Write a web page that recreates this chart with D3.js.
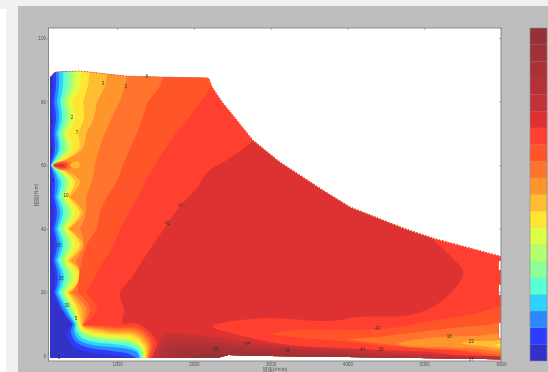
<!DOCTYPE html>
<html>
<head>
<meta charset="utf-8">
<script src="https://cdn.jsdelivr.net/npm/d3@7"></script>
<style>
html, body { margin: 0; padding: 0; background: #f1f1f1; overflow: hidden; }
text { font-family: "Liberation Sans", "Noto Sans CJK SC", sans-serif; }
svg { filter: blur(0.4px); }
</style>
</head>
<body>
<div id="chart"></div>
<script>
// contour band colours, lowest band first (same order as the colour bar)
const levelColors = ["#3232c8", "#2d3cff", "#2d87ff", "#2dd2ff", "#5affd2", "#8cff96", "#b4ff6e", "#dcff46",
    "#ffe632", "#ffbe32", "#ff962d", "#ff732d", "#ff5528", "#ff4030", "#de3232", "#c33237", "#b43237", "#aa3237", "#a03237", "#933237"];

const xTicks = [1000, 2000, 3000, 4000, 5000, 6000];
const yTicks = [0, 20, 40, 60, 80, 100];

// outer limit of the map [rpm, torque]
const envelopeTop = [[126, 87.7], [191, 89.3], [517, 89.6], [1129, 88], [1819, 87.6], [2196, 87.4]];
const envelopeFall = [[2196, 87.4], [2248, 84.3], [2378, 79.6], [2509, 75.8], [2769, 67.9], [3121, 61], [3680, 52.2], [4032, 46.9],
    [4722, 40.3], [5113, 37.1], [6000, 31.4]];
const envelopeRest = [[6000, 29.9], [5965, 29.9], [5965, 27], [6000, 27], [6000, 22.6], [5965, 22.6], [5965, 19.2], [6000, 19.2],
    [6000, 10.4], [5965, 10.4], [5965, 5.7], [6000, 5.7], [6000, -1], [4500, -0.5], [3000, 0], [2450, 0.3], [2300, -0.6], [126, -0.6]];

// left family: rpm where each level is crossed, one value per torque row
const torqueRows = [92, 85, 80, 75, 70, 65, 60, 55, 50, 45, 40, 35, 30, 25, 20, 15];
const pinchRows = [80, 70, 60, 50, 40, 30, 20];
const rpmL2 = [165, 165, 152, 165, 152, 165, 130, 152, 152, 178, 152, 178, 152, 191, 165, 256];
const rpmL3 = [204, 204, 178, 204, 178, 191, 134, 191, 178, 217, 178, 217, 178, 230, 191, 282];
const rpmL4 = [243, 243, 217, 243, 204, 230, 139, 230, 204, 256, 204, 256, 204, 269, 217, 321];
const rpmL5 = [295, 295, 256, 282, 230, 256, 142, 269, 230, 295, 230, 295, 230, 308, 243, 347];
const rpmL6 = [347, 347, 282, 321, 256, 295, 146, 308, 256, 334, 256, 334, 256, 347, 269, 373];
const rpmL7 = [399, 399, 321, 360, 282, 334, 152, 347, 282, 373, 282, 373, 282, 386, 295, 399];
const rpmL8 = [451, 438, 347, 399, 308, 373, 159, 373, 308, 412, 308, 412, 308, 425, 321, 425];
const rpmL9 = [529, 516, 412, 451, 360, 412, 165, 412, 334, 451, 334, 451, 334, 464, 334, 451];
const rpmL10 = [646, 620, 555, 568, 490, 503, 172, 451, 360, 516, 360, 516, 360, 529, 360, 490];
const rpmL11 = [880, 841, 737, 698, 594, 542, 178, 516, 386, 555, 373, 555, 386, 581, 373, 542];
const rpmL12 = [1166, 1101, 1036, 932, 841, 763, 711, 672, 594, 594, 516, 568, 464, 516, 412, 594];
const rpmL13 = [1660, 1556, 1400, 1335, 1257, 1166, 1075, 997, 867, 776, 737, 607, 542, 503, 490, 646];
const rpmL14 = [2401, 2232, 2089, 1933, 1764, 1621, 1491, 1374, 1270, 1153, 1036, 958, 828, 711, 594, 737];

// the same levels below the knee at torque 10, running out along the low torque edge
const tailL2 = [[412, 10], [347, 7.2], [412, 3.5], [620, 1.3], [932, 0.3], [1205, -0.6]];
const tailL3 = [[425, 10], [399, 7.5], [464, 4.4], [646, 2.5], [932, 1.6], [1127, 0.9], [1257, -0.6]];
const tailL4 = [[451, 10], [438, 7.9], [503, 5], [672, 3.5], [932, 2.8], [1140, 2.2], [1270, 0.9], [1283, -0.6]];
const tailL5 = [[464, 10], [464, 8.2], [542, 5.7], [698, 4.4], [932, 3.8], [1140, 3.1], [1270, 1.6], [1309, -0.6]];
const tailL6 = [[477, 10], [490, 8.2], [568, 6], [724, 5], [932, 4.4], [1166, 3.8], [1296, 1.9], [1322, -0.6]];
const tailL7 = [[490, 10], [503, 8.5], [594, 6.6], [750, 5.7], [932, 5], [1166, 4.4], [1309, 2.2], [1335, -0.6]];
const tailL8 = [[503, 10], [516, 8.5], [620, 6.9], [776, 6], [932, 5.7], [1179, 5], [1322, 2.5], [1348, -0.6]];
const tailL9 = [[516, 10], [542, 8.5], [646, 7.2], [802, 6.6], [932, 6.3], [1192, 5.3], [1335, 2.8], [1361, -0.6]];
const tailL10 = [[529, 10], [568, 8.8], [672, 7.9], [932, 6.9], [1218, 6.3], [1361, 3.1], [1374, -0.6]];
const tailL11 = [[542, 9.7], [594, 8.8], [711, 8.5], [932, 7.5], [1244, 6.9], [1387, 3.5], [1387, -0.6]];
const tailL12 = [[555, 9.7], [646, 9.1], [932, 8.2], [1270, 7.5], [1413, 3.8], [1400, -0.6]];
const tailL13 = [[561, 9.7], [672, 9.4], [932, 8.8], [1296, 8.2], [1439, 4.1], [1413, -0.6]];
const tailL14 = [[568, 9.7], [932, 9.4], [1309, 8.8], [1465, 4.4], [1426, -0.6]];

// edge of the big dark red plateau
const plateauL15 = [[2882, 70], [2791, 67.9], [2427, 61.6], [2180, 57.9], [2037, 52.8], [1816, 46.9], [1660, 41.8], [1335, 30.2],
    [1192, 24.8], [1036, 19.8], [1088, 14.5], [1075, 10.4], [1231, 10.4], [1400, 8.2], [1517, 4.1], [1452, -0.6]];

// lower value bands at high speed
const highL14 = [[2245, 9.4], [2895, 11.9], [3766, 11], [4156, 12.3], [4806, 12.9], [5157, 16], [5456, 23], [5508, 26.4], [5326, 31.8],
    [5105, 36.8], [5001, 39.6], [6200, 39.6], [6200, 0.3], [5066, 1.3], [3987, 2.5], [3246, 3.5], [2687, 6]];
const highL13 = [[3025, 6.9], [3337, 8.2], [4156, 8.2], [4585, 8.8], [5027, 10.7], [5586, 12.9], [6200, 15.4], [6200, 0.9], [5326, 1.9],
    [4676, 2.8], [3766, 5], [3376, 5.7]];
const highL12 = [[4026, 5.3], [4416, 6], [4806, 7.2], [5365, 8.8], [5807, 9.7], [6200, 10.4], [6200, 1.3], [5456, 1.9], [4936, 2.5], [4481, 3.8]];
const highL11 = [[4650, 3.8], [4845, 5], [5235, 6], [5677, 6.3], [6200, 6.6], [6200, 1.9], [5586, 2.5], [5066, 2.8]];
const highL10 = [[5482, 4.1], [5651, 4.7], [5846, 4.7], [6200, 5], [6200, 2.2], [5781, 3.1], [5586, 3.5]];
const highL9 = [[5911, 3.5], [6200, 4.2], [6200, 2.7]];

// spike and small island at torque 60
const spikeL12 = [[165, 60], [256, 61.2], [386, 61], [399, 59.9], [386, 58.8], [256, 58.6]];
const spikeL13 = [[165, 60], [256, 60.8], [347, 60.7], [360, 59.9], [347, 59.1], [256, 59]];
const spikeL14 = [[172, 60], [256, 60.6], [334, 60.5], [347, 59.9], [334, 59.3], [256, 59.2]];
const spikeL15 = [[178, 59.9], [256, 60.4], [308, 60.2], [315, 59.9], [308, 59.6], [256, 59.4]];
const islandL10 = [[386, 60], [438, 61], [490, 61.2], [516, 60], [503, 59.4], [438, 59]];

// darkest bands along the low torque edge
const darkL16 = [[1452, -0.6], [1556, 4.4], [1621, 6.6], [1816, 6.9], [2245, 6], [2687, 4.4], [3285, 3.1], [4156, 1.9], [4936, 0.6], [6200, -0.2]];
const darkL17 = [[1530, -0.6], [1621, 3.5], [1751, 5], [2245, 4.4], [2687, 3.1], [3285, 2.2], [4156, 1.1], [4936, 0], [6200, -0.6]];
const darkL18 = [[1634, -0.6], [1712, 2.5], [1946, 3.5], [2245, 3.1], [2687, 2.2], [3285, 1.3], [4156, 0.5], [4936, -0.6], [6200, -1.1]];
const darkL19 = [[1751, -0.6], [1881, 1.9], [2245, 1.9], [2687, 1.3], [3285, 0.5], [4156, 0], [4676, -0.8]];
const darkL20 = [[1946, -0.6], [2141, 0.6], [2687, 0.3], [3285, -0.2], [3896, -0.8]];

// contour labels sitting on the map
const labelRpm = [816, 1114, 1387, 412, 477, 152, 152, 152, 165, 334, 243, 269, 347, 464, 243, 1660, 1829, 2284, 2700, 3220, 4442, 4390, 4195, 5326, 5612, 5612];
const labelTorque = [85.8, 84.9, 88, 75, 70.2, 84.6, 73.3, 64.7, 55.3, 50.6, 34.9, 24.5, 15.9, 11.9, -0.4, 41.8, 47.2, 1.9, 4, 1.6, 2.2, 8.8, 2.2, 6, 4.7, -1];
const labelText = ["3", "3", "8", "2", "7", "0", "0", "0", "0", "10", "15", "25", "30", "5", "0", "42", "47", "66", "64", "66", "26", "43", "44", "18", "23", "37"];

const width = 548, height = 372;
const box = {left: 48.5, right: 501, top: 28, bottom: 361};

const svg = d3.select("#chart").append("svg")
    .attr("width", width)
    .attr("height", height)
    .style("display", "block");

// page pieces around the figure
svg.append("rect").attr("x", -5).attr("y", -5).attr("width", width + 10).attr("height", height + 10).attr("fill", "#f1f1f1");
svg.append("rect").attr("x", -5).attr("y", 9).attr("width", 11).attr("height", height).attr("fill", "#fff");
svg.append("rect").attr("x", 18).attr("y", 6).attr("width", width).attr("height", height).attr("fill", "#bebebe");
svg.append("rect").attr("x", box.left).attr("y", box.top).attr("width", box.right - box.left).attr("height", box.bottom - box.top).attr("fill", "#fff");

const x = d3.scaleLinear().domain([100, 6000]).range([48, 501]);
const y = d3.scaleLinear().domain([-1.57, 103.14]).range([361, 28]);

const px = (p) => x(p[0]) + "," + y(p[1]);
const smooth = d3.line().x((d) => x(d[0])).y((d) => y(d[1])).curve(d3.curveCatmullRom.alpha(0.5));
const closedSmooth = d3.line().x((d) => x(d[0])).y((d) => y(d[1])).curve(d3.curveCatmullRomClosed.alpha(0.5));
const straight = d3.line().x((d) => x(d[0])).y((d) => y(d[1]));

const envelope = envelopeTop.concat(envelopeFall, envelopeRest);

svg.append("clipPath").attr("id", "envelope")
    .append("path").attr("d", straight(envelope) + "Z");

const map = svg.append("g").attr("clip-path", "url(#envelope)");

map.append("path").attr("d", straight(envelope) + "Z").attr("fill", levelColors[0]);

// everything right of a left family contour is at or above that level
const leftLevels = [
    [2, rpmL2, tailL2], [3, rpmL3, tailL3], [4, rpmL4, tailL4], [5, rpmL5, tailL5], [6, rpmL6, tailL6], [7, rpmL7, tailL7], [8, rpmL8, tailL8],
    [9, rpmL9, tailL9], [10, rpmL10, tailL10], [11, rpmL11, tailL11], [12, rpmL12, tailL12], [13, rpmL13, tailL13], [14, rpmL14, tailL14]
];

leftLevels.forEach(([level, rpm, tail]) => {
    const pts = [];
    torqueRows.forEach((t, i) => {
        pts.push([rpm[i], t]);
        if (pinchRows.includes(t)) pts.push([rpm[i], t]);  // doubled point keeps the cusp sharp
    });
    pts.push(tail[0]);
    tail.forEach((p) => pts.push(p));
    const d = smooth(pts) + "L" + px([7000, -5]) + "L" + px([7000, 100]) + "L" + px([rpm[0], 100]) + "Z";
    map.append("path").attr("d", d).attr("fill", levelColors[level - 1]);
});

map.append("path")
    .attr("d", smooth(plateauL15) + "L" + px([7000, -5]) + "L" + px([7000, 100]) + "L" + px([2882, 100]) + "Z")
    .attr("fill", levelColors[14]);

[[14, highL14], [13, highL13], [12, highL12], [11, highL11], [10, highL10], [9, highL9],
    [12, spikeL12], [13, spikeL13], [14, spikeL14], [15, spikeL15], [10, islandL10]].forEach(([level, pts]) => {
    map.append("path").attr("d", closedSmooth(pts)).attr("fill", levelColors[level - 1]);
});

[[16, darkL16], [17, darkL17], [18, darkL18], [19, darkL19], [20, darkL20]].forEach(([level, pts]) => {
    const last = pts[pts.length - 1];
    map.append("path")
        .attr("d", smooth(pts) + "L" + px([last[0], -5]) + "L" + px([pts[0][0], -5]) + "Z")
        .attr("fill", levelColors[level - 1]);
});

// dotted limit line: red dashes along the flat top, white nibbles down the falling edge
svg.append("path")
    .attr("d", straight(envelopeTop))
    .attr("fill", "none")
    .attr("stroke", "#ec5a50")
    .attr("stroke-width", 1)
    .attr("stroke-dasharray", "1.6,1.4");
svg.append("path")
    .attr("d", straight(envelopeFall))
    .attr("fill", "none")
    .attr("stroke", "#fff")
    .attr("stroke-width", 1)
    .attr("stroke-dasharray", "1.4,1.6");

svg.selectAll(".clabel")
    .data(labelText)
    .enter()
    .append("text")
    .attr("class", "clabel")
    .attr("x", (d, i) => x(labelRpm[i]))
    .attr("y", (d, i) => y(labelTorque[i]) + 1.5)
    .attr("text-anchor", "middle")
    .attr("font-size", 4.5)
    .attr("fill", "#333")
    .text((d) => d);

// frame and axes
svg.append("g").attr("transform", "translate(0," + box.bottom + ")")
    .call(d3.axisBottom(x).tickValues(xTicks).tickSize(1.5).tickPadding(0.5).tickFormat(d3.format("d")));
svg.append("g").attr("transform", "translate(" + box.left + ",0)")
    .call(d3.axisLeft(y).tickValues(yTicks).tickSize(1.5).tickPadding(1).tickFormat(d3.format("d")));
svg.append("g").attr("transform", "translate(0," + box.top + ")")
    .call(d3.axisTop(x).tickValues(xTicks).tickSize(-1.5).tickFormat(""));
svg.append("g").attr("transform", "translate(" + box.right + ",0)")
    .call(d3.axisRight(y).tickValues(yTicks).tickSize(-1.5).tickFormat(""));

svg.selectAll(".domain").attr("stroke", "none");
svg.selectAll(".tick line").attr("stroke", "#888");
svg.selectAll(".tick text").attr("font-size", 4.6).attr("fill", "#555").attr("font-family", "Liberation Sans");

svg.append("rect")
    .attr("x", box.left).attr("y", box.top)
    .attr("width", box.right - box.left).attr("height", box.bottom - box.top)
    .attr("fill", "none").attr("stroke", "#8a8a8a").attr("stroke-width", 1);

svg.append("text").attr("x", 275).attr("y", 371).attr("text-anchor", "middle")
    .attr("font-size", 5).attr("fill", "#555").text("转速(r/min)");
svg.append("text").attr("transform", "translate(37.5,195) rotate(-90)").attr("text-anchor", "middle")
    .attr("font-size", 5).attr("fill", "#555").text("扭矩(N.m)");

// colour bar
const barY = d3.scaleBand().domain(d3.range(levelColors.length)).range([361, 28]);
svg.selectAll(".cell")
    .data(levelColors)
    .enter()
    .append("rect")
    .attr("class", "cell")
    .attr("x", 530)
    .attr("y", (d, i) => barY(i))
    .attr("width", 17)
    .attr("height", barY.bandwidth())
    .attr("fill", (d) => d);
svg.append("rect").attr("x", 530).attr("y", 28).attr("width", 17).attr("height", 333)
    .attr("fill", "none").attr("stroke", "#8a8a8a").attr("stroke-width", 0.6);
</script>
</body>
</html>
